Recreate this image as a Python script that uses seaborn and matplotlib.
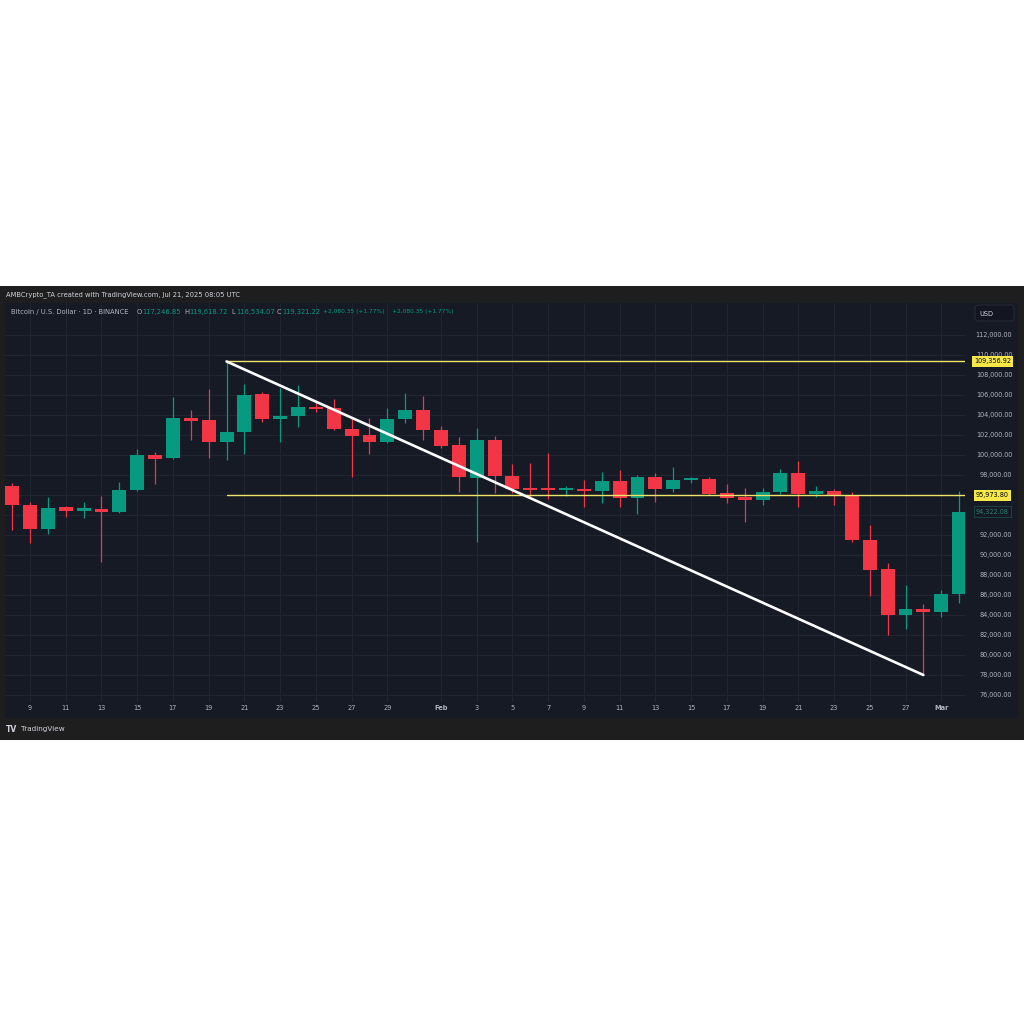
import numpy as np
import pandas as pd
import matplotlib
matplotlib.use("Agg")
import matplotlib.pyplot as plt
import matplotlib.transforms as mtransforms
from matplotlib.patches import Rectangle, FancyBboxPatch
import seaborn as sns

# ---------------- data ----------------
dates = pd.date_range("2025-01-08", "2025-03-02", freq="D")
opens = [96900, 94970, 92600, 94770, 94430, 94530, 94330, 96500, 99970, 99670,
         103670, 103500, 101330, 102270, 106070, 103630, 103900, 104830, 104700, 102570,
         102000, 101270, 103570, 104500, 102500, 100970, 97730, 101500, 97930, 96620,
         96560, 96500, 96600, 96430, 97400, 95730, 97830, 96570, 97470, 97600,
         96170, 95730, 95530, 96270, 98170, 96130, 96430, 96030, 91500, 88570,
         83970, 84570, 84270, 86100]
highs = [97230, 95330, 95830, 94930, 95330, 95900, 97330, 100600, 100330, 105770,
         104500, 106570, 109357, 107100, 106270, 106670, 107000, 105330, 105600, 103830,
         103730, 104670, 106170, 105900, 102900, 101830, 102670, 101900, 99070, 99230,
         100170, 96930, 97500, 98330, 98500, 98000, 98170, 98830, 97830, 97770,
         97070, 96670, 96670, 98600, 99400, 96900, 96570, 96330, 93000, 89230,
         87000, 85070, 86500, 96430]
lows = [92500, 91200, 92100, 93830, 93670, 89300, 94200, 96400, 97100, 99600,
        101500, 99670, 99500, 100100, 103330, 101270, 102770, 104330, 102500, 97770,
        100100, 101200, 103170, 101500, 100670, 96330, 91300, 96170, 96230, 95670,
        95600, 95930, 94770, 95230, 94770, 94100, 95330, 96330, 97230, 96000,
        95170, 93330, 95000, 96100, 94770, 95770, 95000, 91330, 85900, 82000,
        82600, 78100, 83830, 85170]
closes = [94970, 92600, 94730, 94430, 94530, 94330, 96500, 99970, 99630, 103670,
          103400, 101330, 102330, 106000, 103600, 103930, 104830, 104600, 102570, 101930,
          101270, 103600, 104500, 102500, 100930, 97770, 101500, 97900, 96570, 96520,
          96480, 96580, 96400, 97400, 95730, 97830, 96570, 97500, 97670, 96130,
          95670, 95530, 96300, 98170, 96100, 96430, 95970, 91500, 88500, 84030,
          84570, 84270, 86100, 94322]

level_high = 109356.92
level_mid = 95973.80
last_price = 94322.08
trend_start_date, trend_start_price = "2025-01-20", 109356.92
trend_end_date, trend_end_price = "2025-02-28", 78000.0

price_ticks = list(range(76000, 112001, 2000))
hidden_price_ticks = [94000, 96000]   # covered by the price boxes in the reference
x_tick_dates = ["2025-01-09", "2025-01-11", "2025-01-13", "2025-01-15", "2025-01-17",
                "2025-01-19", "2025-01-21", "2025-01-23", "2025-01-25", "2025-01-27",
                "2025-01-29", "2025-02-01", "2025-02-03", "2025-02-05", "2025-02-07",
                "2025-02-09", "2025-02-11", "2025-02-13", "2025-02-15", "2025-02-17",
                "2025-02-19", "2025-02-21", "2025-02-23", "2025-02-25", "2025-02-27",
                "2025-03-01"]
x_tick_labels = ["9", "11", "13", "15", "17", "19", "21", "23", "25", "27", "29",
                 "Feb", "3", "5", "7", "9", "11", "13", "15", "17", "19", "21", "23",
                 "25", "27", "Mar"]

header = "AMBCrypto_TA created with TradingView.com, Jul 21, 2025 08:05 UTC"
symbol = "Bitcoin / U.S. Dollar · 1D · BINANCE"
ohlc_labels = ["O", "H", "L", "C"]
ohlc_values = ["117,246.85", "119,618.72", "116,534.07", "119,321.22"]
change_text = "+2,080.35 (+1.77%)"

# ---------------- styling ----------------
UP = "#089981"
DOWN = "#F23645"
PANEL = "#161a25"
OUTER = "#1e1e1e"
GRID = "#222633"
TXT = "#b2b5be"
YEL = "#f0e36a"

sns.set_theme(style="dark")
plt.rcParams["font.family"] = ["DejaVu Sans"]

W = H = 1024
fig = plt.figure(figsize=(10.24, 10.24), dpi=100, facecolor="white")

def fx(px):
    return px / W

def fy(py):
    return 1 - py / H

# outer dark frame and inner panel
fig.patches.append(Rectangle((0, fy(740)), 1, (740 - 286) / H, transform=fig.transFigure,
                             facecolor=OUTER, edgecolor="none", zorder=-2))
fig.patches.append(Rectangle((fx(5), fy(718)), (1018 - 5) / W, (718 - 303) / H,
                             transform=fig.transFigure, facecolor=PANEL, edgecolor="none", zorder=-1))

ax = fig.add_axes([fx(5), fy(702), (965 - 5) / W, (702 - 303) / H])
ax.set_zorder(1)
ax.set_facecolor(PANEL)
for s in ax.spines.values():
    s.set_visible(False)

df = pd.DataFrame({"date": dates, "open": opens, "high": highs, "low": lows, "close": closes})
t0 = dates[0]
df["t"] = (df["date"] - t0).dt.days
df["up"] = df["close"] >= df["open"]
colors = np.where(df["up"], UP, DOWN)

# wicks
ax.vlines(df["t"], df["low"], df["high"], colors=colors, linewidth=0.9, zorder=3)
# bodies
body_low = np.minimum(df["open"], df["close"])
body_h = np.maximum(np.abs(df["close"] - df["open"]), 220)
ax.bar(df["t"], body_h, bottom=body_low, width=0.78, color=colors, edgecolor="none", zorder=4)

def tnum(d):
    return (pd.Timestamp(d) - t0).days

# horizontal levels
x_end = 53.6
lv = pd.DataFrame({"t": [tnum(trend_start_date), x_end], "p": [level_high, level_high]})
sns.lineplot(data=lv, x="t", y="p", color=YEL, linewidth=1.0, ax=ax, zorder=5)
lv2 = pd.DataFrame({"t": [tnum(trend_start_date), x_end], "p": [level_mid, level_mid]})
sns.lineplot(data=lv2, x="t", y="p", color=YEL, linewidth=1.0, ax=ax, zorder=5)
# trend line
tr = pd.DataFrame({"t": [tnum(trend_start_date), tnum(trend_end_date)],
                   "p": [trend_start_price, trend_end_price]})
sns.lineplot(data=tr, x="t", y="p", color="white", linewidth=1.9, ax=ax, zorder=6)

# scales
ax.set_xlim(-0.40, 53.33)
ax.set_ylim(75300, 115200)
ax.set_xlabel("")
ax.set_ylabel("")

ax.set_xticks([tnum(d) for d in x_tick_dates])
ax.set_xticklabels(x_tick_labels)
for lbl in ax.get_xticklabels():
    lbl.set_color(TXT)
    lbl.set_fontsize(4.8)
    if lbl.get_text() in ("Feb", "Mar"):
        lbl.set_fontweight("bold")
ax.tick_params(axis="x", length=0, pad=2.5)

ax.yaxis.tick_right()
ax.set_yticks(price_ticks)
ax.set_yticklabels(["" if v in hidden_price_ticks else f"{v:,.2f}" for v in price_ticks])
for lbl in ax.get_yticklabels():
    lbl.set_color(TXT)
    lbl.set_fontsize(4.7)
    lbl.set_horizontalalignment("right")
ax.tick_params(axis="y", length=0, pad=34)

ax.grid(True, color=GRID, linewidth=0.7)
ax.set_axisbelow(True)

# price labels on the scale
blend = mtransforms.blended_transform_factory(fig.transFigure, ax.transData)
ax.text(fx(992.5), level_high, "109,356.92", transform=blend, ha="center", va="center",
        fontsize=4.7, color="black", zorder=20, clip_on=False,
        bbox=dict(boxstyle="square,pad=0.35", facecolor="#f7e84a", edgecolor="none"))
ax.text(fx(992.5), level_mid, "95,973.80", transform=blend, ha="center", va="center",
        fontsize=4.7, color="black", zorder=20, clip_on=False,
        bbox=dict(boxstyle="square,pad=0.35", facecolor="#f7e84a", edgecolor="none"))
ax.text(fx(992.5), last_price, "94,322.08", transform=blend, ha="center", va="center",
        fontsize=4.7, color="#2f7f72", zorder=20, clip_on=False,
        bbox=dict(boxstyle="square,pad=0.35", facecolor=PANEL, edgecolor="#1d4a45", linewidth=0.6))

# USD box
fig.patches.append(FancyBboxPatch((fx(975), fy(321)), (1014 - 975) / W, (321 - 305) / H,
                                  boxstyle="round,pad=0,rounding_size=0.003",
                                  transform=fig.transFigure, facecolor="#131620",
                                  edgecolor="#2a2e39", linewidth=0.6, zorder=2))
fig.text(fx(979), fy(313.5), "USD", fontsize=4.8, color="#d1d4dc", va="center", ha="left")

# header texts
fig.text(fx(6), fy(295), header, fontsize=4.9, color="#d1d4dc", va="center", ha="left")
fig.text(fx(11), fy(312), symbol, fontsize=4.9, color=TXT, va="center", ha="left")
label_x = [137, 184, 231, 277]
for lab, val, x in zip(ohlc_labels, ohlc_values, label_x):
    fig.text(fx(x), fy(312), lab, fontsize=4.9, color=TXT, va="center", ha="left")
    fig.text(fx(x + 5), fy(312), val, fontsize=4.9, color=UP, va="center", ha="left")
fig.text(fx(323), fy(312), change_text, fontsize=4.2, color=UP, va="center", ha="left")
fig.text(fx(392), fy(312), change_text, fontsize=4.2, color=UP, va="center", ha="left")

# footer logo
fig.text(fx(6), fy(729), "TV", fontsize=5.5, color="#d1d4dc", fontweight="heavy", va="center", ha="left")
fig.text(fx(21), fy(729), "TradingView", fontsize=5.2, color="#d1d4dc", va="center", ha="left")

fig.savefig("out.png", dpi=100, facecolor="white")
